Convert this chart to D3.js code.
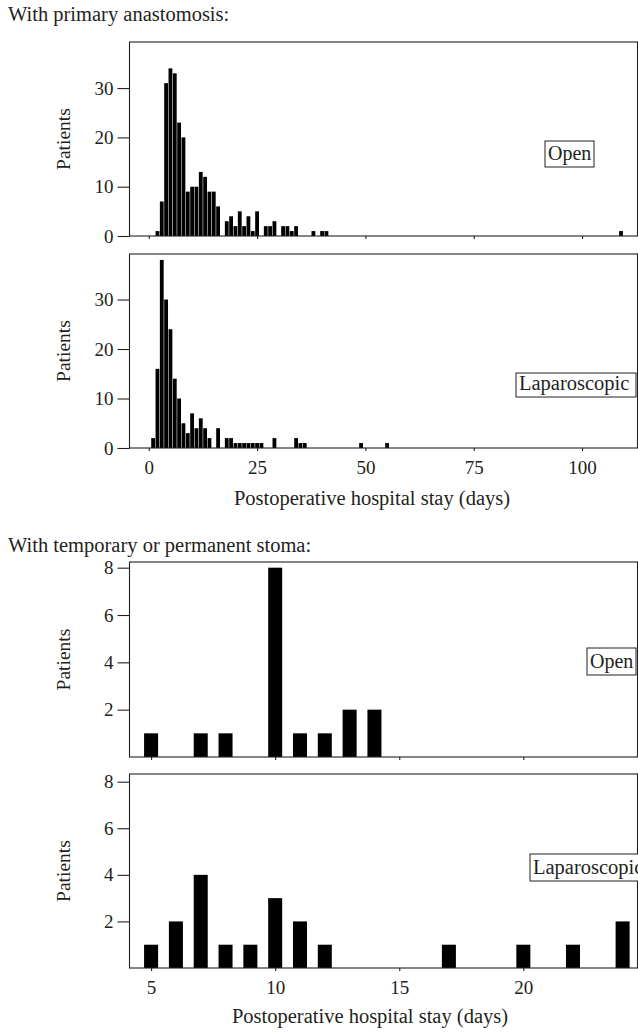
<!DOCTYPE html>
<html>
<head>
<meta charset="utf-8">
<script src="https://cdn.jsdelivr.net/npm/d3@7"></script>
<style>
  body { margin: 0; background: #fff; }
  svg text { font-family: 'Liberation Serif', 'Times New Roman', serif; fill: #231f20; }
</style>
</head>
<body>
<svg id="chart" width="638" height="1033"></svg>
<script>
// primary anastomosis, days vs patients
const anaOpenDays = [2, 3, 4, 5, 6, 7, 8, 9, 10, 11, 12, 13, 14, 15, 16, 18, 19, 20, 21, 22, 23, 24, 25, 27, 28, 29, 31, 32, 33, 34, 38, 40, 41, 109];
const anaOpenPatients = [1, 7, 31, 34, 33, 23, 20, 9, 10, 10, 13, 12, 9, 9, 6, 3, 4, 2, 5, 2, 4, 1, 5, 2, 2, 3, 2, 2, 1, 2, 1, 1, 1, 1];
const anaLapDays = [1, 2, 3, 4, 5, 6, 7, 8, 9, 10, 11, 12, 13, 14, 16, 18, 19, 20, 21, 22, 23, 24, 25, 26, 29, 34, 35, 36, 49, 55];
const anaLapPatients = [2, 16, 38, 30, 24, 14, 10, 5, 3, 7, 4, 6, 4, 2, 4, 2, 2, 1, 1, 1, 1, 1, 1, 1, 2, 2, 1, 1, 1, 1];

// temporary or permanent stoma
const stomaOpenDays = [5, 7, 8, 10, 11, 12, 13, 14];
const stomaOpenPatients = [1, 1, 1, 8, 1, 1, 2, 2];
const stomaLapDays = [5, 6, 7, 8, 9, 10, 11, 12, 17, 20, 22, 24];
const stomaLapPatients = [1, 2, 4, 1, 1, 3, 2, 1, 1, 1, 1, 2];

const anaXTicks = [0, 25, 50, 75, 100];
const anaYTicks = [0, 10, 20, 30];
const stomaXTicks = [5, 10, 15, 20];
const stomaYTicks = [2, 4, 6, 8];

const svg = d3.select('#chart');
const ink = '#231f20';
const serif = "'Liberation Serif', 'Times New Roman', serif";
const left = 129.5;
const right = 637.5;

const xAna = d3.scaleLinear().domain([-4.45, 112.8]).range([left, right]);
const xStoma = d3.scaleLinear().domain([4.13, 24.6]).range([left, right]);

svg.append('text')
  .attr('x', 8).attr('y', 21)
  .attr('font-size', 20.5)
  .text('With primary anastomosis:');

svg.append('text')
  .attr('x', 8).attr('y', 552)
  .attr('font-size', 20.5)
  .text('With temporary or permanent stoma:');

const styleAxis = (a) => {
  a.attr('font-family', serif).attr('font-size', 19);
  a.select('.domain').remove();
  a.selectAll('line').attr('stroke', ink).attr('stroke-width', 1.1);
  a.selectAll('text').attr('fill', ink);
};

const drawPanel = (opt) => {
  const {
    days, patients, x, top, bottom, yMax, yTicks, xTicks, barWidth, xLabels, label, labelBox, labelSize,
  } = opt;
  const y = d3.scaleLinear().domain([0, yMax]).range([bottom, top]);
  const g = svg.append('g');

  g.selectAll('rect.bar')
    .data(days.map((d, i) => ({ day: d, n: patients[i] })))
    .join('rect')
    .attr('class', 'bar')
    .attr('x', (d) => x(d.day - barWidth / 2))
    .attr('width', (d) => x(d.day + barWidth / 2) - x(d.day - barWidth / 2))
    .attr('y', (d) => y(d.n))
    .attr('height', (d) => y(0) - y(d.n))
    .attr('fill', '#000');

  // frame
  g.append('rect')
    .attr('x', left)
    .attr('y', top)
    .attr('width', right - left)
    .attr('height', bottom - top)
    .attr('fill', 'none')
    .attr('stroke', ink)
    .attr('stroke-width', 1.1);

  g.append('g')
    .attr('transform', `translate(${left},0)`)
    .call(d3.axisLeft(y).tickValues(yTicks).tickSize(12).tickPadding(4))
    .call(styleAxis);

  g.append('g')
    .attr('transform', `translate(0,${bottom})`)
    .call(d3.axisBottom(x).tickValues(xTicks).tickSize(3).tickPadding(10)
      .tickFormat(xLabels ? d3.format('d') : () => ''))
    .call(styleAxis);

  g.append('text')
    .attr('transform', `translate(70,${(top + bottom) / 2}) rotate(-90)`)
    .attr('text-anchor', 'middle')
    .attr('font-size', 19.5)
    .text('Patients');

  g.append('rect')
    .attr('x', labelBox[0])
    .attr('y', labelBox[1])
    .attr('width', labelBox[2])
    .attr('height', labelBox[3])
    .attr('fill', '#fff')
    .attr('stroke', ink)
    .attr('stroke-width', 1);
  g.append('text')
    .attr('x', labelBox[0] + 3)
    .attr('y', labelBox[1] + labelBox[3] - 7)
    .attr('font-size', labelSize)
    .text(label);
};

drawPanel({
  days: anaOpenDays, patients: anaOpenPatients, x: xAna, top: 42, bottom: 236, yMax: 39.35,
  yTicks: anaYTicks, xTicks: anaXTicks, barWidth: 0.88, xLabels: false,
  label: 'Open', labelBox: [545, 141, 49, 26], labelSize: 20,
});
drawPanel({
  days: anaLapDays, patients: anaLapPatients, x: xAna, top: 254, bottom: 448, yMax: 39.2,
  yTicks: anaYTicks, xTicks: anaXTicks, barWidth: 0.88, xLabels: true,
  label: 'Laparoscopic', labelBox: [516, 373, 120, 24], labelSize: 20.5,
});
drawPanel({
  days: stomaOpenDays, patients: stomaOpenPatients, x: xStoma, top: 562, bottom: 757, yMax: 8.24,
  yTicks: stomaYTicks, xTicks: stomaXTicks, barWidth: 0.565, xLabels: false,
  label: 'Open', labelBox: [587, 648, 49, 27], labelSize: 20,
});
drawPanel({
  days: stomaLapDays, patients: stomaLapPatients, x: xStoma, top: 774, bottom: 968, yMax: 8.33,
  yTicks: stomaYTicks, xTicks: stomaXTicks, barWidth: 0.565, xLabels: true,
  label: 'Laparoscopic', labelBox: [530, 854, 120, 27], labelSize: 20.5,
});

svg.append('text')
  .attr('x', 372).attr('y', 505)
  .attr('text-anchor', 'middle')
  .attr('font-size', 20.5)
  .text('Postoperative hospital stay (days)');

svg.append('text')
  .attr('x', 370).attr('y', 1023)
  .attr('text-anchor', 'middle')
  .attr('font-size', 20.5)
  .text('Postoperative hospital stay (days)');
</script>
</body>
</html>
